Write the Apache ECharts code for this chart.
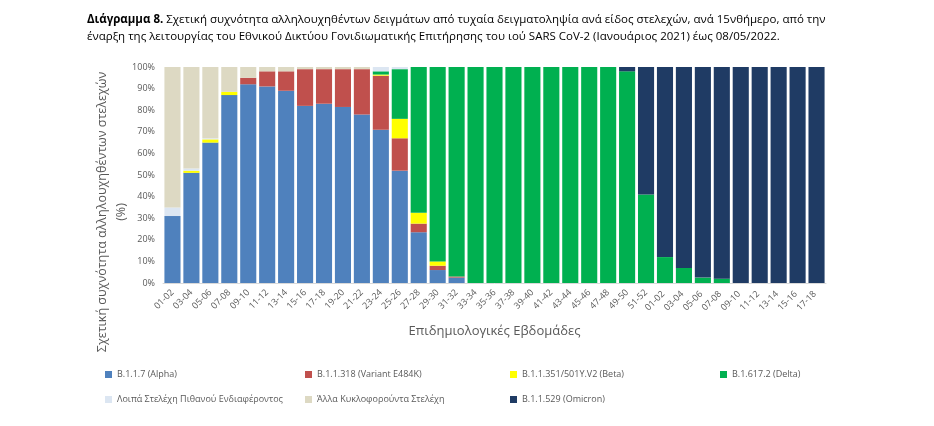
<!DOCTYPE html><html><head><meta charset="utf-8"><script src="https://cdn.jsdelivr.net/npm/echarts@6/dist/echarts.min.js"></script>
<style>body{margin:0}#c{width:934px;height:426px}</style></head><body><div id="c"></div><script>
const categories=['01-02','03-04','05-06','07-08','09-10','11-12','13-14','15-16','17-18','19-20','21-22','23-24','25-26','27-28','29-30','31-32','33-34','35-36','37-38','39-40','41-42','43-44','45-46','47-48','49-50','51-52','01-02 ','03-04 ','05-06 ','07-08 ','09-10 ','11-12 ','13-14 ','15-16 ','17-18 '];
const alpha=[31,51,65,87,92,91,89,82,83,81.5,78,71,52,23.5,6,2.5,0,0,0,0,0,0,0,0,0,0,0,0,0,0,0,0,0,0,0];
const v318=[0,0,0,0,3,7,9,17,16,17.5,21,25,15,4,2,0.5,0,0,0,0,0,0,0,0,0,0,0,0,0,0,0,0,0,0,0];
const beta=[0,1,1.5,1.5,0,0,0,0,0,0,0,0.5,9,5,2,0,0,0,0,0,0,0,0,0,0,0,0,0,0,0,0,0,0,0,0];
const delta=[0,0,0,0,0,0,0,0,0,0,0,1.5,23,67.5,90,97,100,100,100,100,100,100,100,100,98,41,12,7,2.5,2,0,0,0,0,0];
const loipa=[4,1,0.5,0,0,0,0,0,0,0,0,2,1,0,0,0,0,0,0,0,0,0,0,0,0,0,0,0,0,0,0,0,0,0,0];
const alla=[65,47,33,11.5,5,2,2,1,1,1,1,0,0,0,0,0,0,0,0,0,0,0,0,0,0,0,0,0,0,0,0,0,0,0,0];
const omicron=[0,0,0,0,0,0,0,0,0,0,0,0,0,0,0,0,0,0,0,0,0,0,0,0,2,59,88,93,97.5,98,100,100,100,100,100];
const names=['B.1.1.7 (Alpha)','B.1.1.318 (Variant E484K)','B.1.1.351/501Y.V2 (Beta)','B.1.617.2 (Delta)','Λοιπά Στελέχη Πιθανού Ενδιαφέροντος','Άλλα Κυκλοφορούντα Στελέχη','B.1.1.529 (Omicron)'];
const datas=[alpha,v318,beta,delta,loipa,alla,omicron];
const colors=['#4F81BD','#C0504D','#FFFF00','#00B050','#DCE6F2','#DDD9C3','#1F3B64'];
const pos=[[100,365],[300,365],[505,365],[715,365],[100,390],[300,390],[505,390]];
const ch=echarts.init(document.getElementById('c'));
ch.setOption({
 animation:false,textStyle:{fontFamily:'Open Sans'},
 title:{left:82,top:6,text:'{b|Διάγραμμα 8.} Σχετική συχνότητα αλληλουχηθέντων δειγμάτων από τυχαία δειγματοληψία ανά είδος στελεχών, ανά 15νθήμερο, από την\nέναρξη της λειτουργίας του Εθνικού Δικτύου Γονιδιωματικής Επιτήρησης του ιού SARS CoV-2 (Ιανουάριος 2021) έως 08/05/2022.',
  textStyle:{fontSize:11.5,fontWeight:'normal',color:'#000',lineHeight:17,rich:{b:{fontWeight:'bold',fontSize:11.5,color:'#000'}}}},
 graphic:[{type:'text',x:112,y:212,rotation:Math.PI/2,style:{text:'Σχετική συχνότητα αλληλουχηθέντων στελεχών\n(%)',align:'center',verticalAlign:'middle',fontSize:12.5,lineHeight:19,fill:'#595959',fontFamily:'Open Sans'}}],
 legend:names.map((n,i)=>({data:[n],left:pos[i][0],top:pos[i][1],itemWidth:7,itemHeight:7,icon:'rect',textStyle:{fontSize:9,color:'#595959'}})),
 grid:{left:163,right:108,top:67,bottom:143},
 xAxis:{type:'category',data:categories,name:'Επιδημιολογικές Εβδομάδες',nameLocation:'middle',nameGap:42,nameTextStyle:{fontSize:13,color:'#595959'},
  axisLabel:{rotate:45,fontSize:9,color:'#595959',interval:0},axisTick:{show:false},axisLine:{lineStyle:{color:'#d9d9d9'}}},
 yAxis:{type:'value',min:0,max:100,interval:10,
  axisLabel:{formatter:'{value}%',fontSize:9,color:'#595959'},splitLine:{show:false}},
 series:datas.map((d,i)=>({name:names[i],type:'bar',stack:'a',data:d,barCategoryGap:'15%',itemStyle:{color:colors[i]}}))
});
</script></body></html>
